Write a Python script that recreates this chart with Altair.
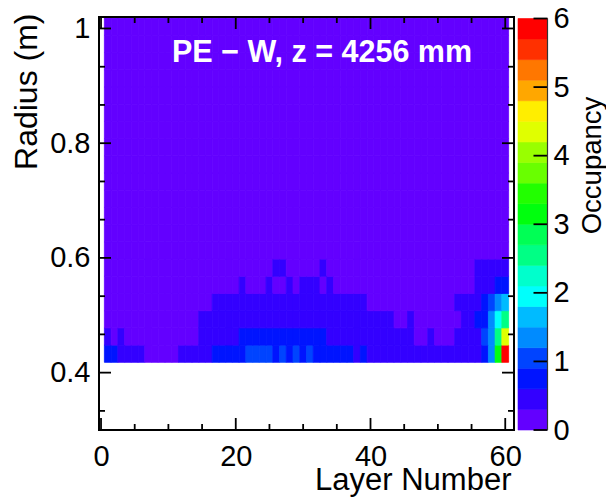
import altair as alt
import pandas as pd

# ------------------------------------------------------------------
# Data
# ------------------------------------------------------------------
LAYERS = list(range(1, 61))          # layer numbers (bin centres)
RADIUS_START = 0.418                 # lower edge of first radius bin (m)
RADIUS_BIN = 0.03                    # radius bin height (m)

# Occupancy per radius bin (bottom bin first), layers 1..60
OCC_ROW_0 = [0.75, 0.75, 0.45, 0.45, 0.45, 0.45, 0.15, 0.15, 0.15, 0.15,
             0.15, 0.45, 0.45, 0.45, 0.45, 0.45, 0.75, 0.75, 0.75, 0.75,
             0.75, 1.05, 1.05, 1.05, 1.05, 0.75, 1.05, 0.75, 1.05, 0.75,
             1.05, 0.75, 0.75, 0.75, 0.75, 0.75, 0.75, 0.45, 0.75, 0.45,
             0.45, 0.45, 0.45, 0.45, 0.45, 0.45, 0.45, 0.45, 0.45, 0.45,
             0.45, 0.45, 0.45, 0.45, 0.45, 0.45, 0.75, 1.35, 3.15, 5.85]
OCC_ROW_1 = [0.45, 0.15, 0.45, 0.15, 0.15, 0.15, 0.15, 0.15, 0.15, 0.15,
             0.15, 0.15, 0.15, 0.15, 0.45, 0.45, 0.45, 0.45, 0.45, 0.45,
             0.75, 0.75, 0.75, 0.75, 0.75, 0.75, 0.75, 0.75, 0.75, 0.75,
             0.75, 0.75, 0.75, 0.45, 0.45, 0.45, 0.45, 0.45, 0.45, 0.45,
             0.45, 0.45, 0.45, 0.45, 0.45, 0.45, 0.15, 0.15, 0.45, 0.15,
             0.15, 0.15, 0.45, 0.45, 0.45, 0.45, 1.05, 1.35, 2.55, 4.35]
OCC_ROW_2 = [0.15, 0.15, 0.15, 0.15, 0.15, 0.15, 0.15, 0.15, 0.15, 0.15,
             0.15, 0.15, 0.15, 0.15, 0.45, 0.45, 0.45, 0.45, 0.45, 0.45,
             0.45, 0.45, 0.45, 0.45, 0.45, 0.45, 0.45, 0.45, 0.45, 0.45,
             0.45, 0.45, 0.45, 0.45, 0.45, 0.45, 0.45, 0.45, 0.45, 0.45,
             0.45, 0.45, 0.45, 0.15, 0.15, 0.45, 0.15, 0.15, 0.15, 0.15,
             0.15, 0.15, 0.15, 0.45, 0.45, 0.75, 0.75, 1.35, 1.95, 2.55]
OCC_ROW_3 = [0.15, 0.15, 0.15, 0.15, 0.15, 0.15, 0.15, 0.15, 0.15, 0.15,
             0.15, 0.15, 0.15, 0.15, 0.15, 0.15, 0.45, 0.45, 0.45, 0.45,
             0.45, 0.45, 0.45, 0.45, 0.45, 0.45, 0.45, 0.45, 0.45, 0.45,
             0.45, 0.45, 0.45, 0.45, 0.45, 0.45, 0.45, 0.45, 0.45, 0.15,
             0.15, 0.15, 0.15, 0.15, 0.15, 0.15, 0.15, 0.15, 0.15, 0.15,
             0.15, 0.15, 0.45, 0.45, 0.45, 0.45, 0.75, 1.05, 1.35, 1.65]
OCC_ROW_4 = [0.15, 0.15, 0.15, 0.15, 0.15, 0.15, 0.15, 0.15, 0.15, 0.15,
             0.15, 0.15, 0.15, 0.15, 0.15, 0.15, 0.15, 0.15, 0.15, 0.15,
             0.45, 0.15, 0.15, 0.15, 0.45, 0.15, 0.15, 0.45, 0.15, 0.45,
             0.45, 0.45, 0.15, 0.45, 0.15, 0.15, 0.15, 0.15, 0.15, 0.15,
             0.15, 0.15, 0.15, 0.15, 0.15, 0.15, 0.15, 0.15, 0.15, 0.15,
             0.15, 0.15, 0.15, 0.15, 0.15, 0.45, 0.45, 0.45, 0.75, 0.75]
OCC_ROW_5 = [0.15, 0.15, 0.15, 0.15, 0.15, 0.15, 0.15, 0.15, 0.15, 0.15,
             0.15, 0.15, 0.15, 0.15, 0.15, 0.15, 0.15, 0.15, 0.15, 0.15,
             0.15, 0.15, 0.15, 0.15, 0.15, 0.45, 0.45, 0.15, 0.15, 0.15,
             0.15, 0.15, 0.45, 0.15, 0.15, 0.15, 0.15, 0.15, 0.15, 0.15,
             0.15, 0.15, 0.15, 0.15, 0.15, 0.15, 0.15, 0.15, 0.15, 0.15,
             0.15, 0.15, 0.15, 0.15, 0.15, 0.45, 0.45, 0.45, 0.45, 0.45]
# every radius bin above the sixth reads uniformly in the lowest band
OCC_UPPER = [0.15, 0.15, 0.15, 0.15, 0.15, 0.15, 0.15, 0.15, 0.15, 0.15,
             0.15, 0.15, 0.15, 0.15, 0.15, 0.15, 0.15, 0.15, 0.15, 0.15,
             0.15, 0.15, 0.15, 0.15, 0.15, 0.15, 0.15, 0.15, 0.15, 0.15,
             0.15, 0.15, 0.15, 0.15, 0.15, 0.15, 0.15, 0.15, 0.15, 0.15,
             0.15, 0.15, 0.15, 0.15, 0.15, 0.15, 0.15, 0.15, 0.15, 0.15,
             0.15, 0.15, 0.15, 0.15, 0.15, 0.15, 0.15, 0.15, 0.15, 0.15]
N_UPPER_ROWS = 15

# colour contours (20 levels of 0.3) and ROOT "pretty" palette colours
LEVELS = [0.0, 0.3, 0.6, 0.9, 1.2, 1.5, 1.8, 2.1, 2.4, 2.7, 3.0,
          3.3, 3.6, 3.9, 4.2, 4.5, 4.8, 5.1, 5.4, 5.7, 6.0]
PALETTE = ["#6300ff", "#3300ff", "#0014ff", "#0044ff", "#008bff",
           "#00bbff", "#00fffc", "#00ffcc", "#00ff85", "#00ff55",
           "#00ff0e", "#22ff00", "#69ff00", "#99ff00", "#e0ff00",
           "#ffee00", "#ffa700", "#ff7700", "#ff3000", "#ff0000"]

X_MAJOR = [0, 20, 40, 60]
X_MINOR = [5, 10, 15, 25, 30, 35, 45, 50, 55]
Y_MAJOR = [0.4, 0.6, 0.8, 1.0]
Y_MINOR = [0.3333, 0.4667, 0.5333, 0.6667, 0.7333, 0.8667, 0.9333]
Z_TICKS = [0, 1, 2, 3, 4, 5, 6]

TITLE = "PE \u2212 W, z = 4256 mm"
X_TITLE = "Layer Number"
Y_TITLE = "Radius (m)"
Z_TITLE = "Occupancy"

# ------------------------------------------------------------------
# Layout / style
# ------------------------------------------------------------------
W, H = 415, 413
X_DOMAIN = [-0.3, 61.3]
Y_DOMAIN = [0.3, 1.02]
FONT = "Liberation Sans"
LABEL_SIZE = 29
TICK_W = 1.8
MAJOR_LEN, MINOR_LEN = 12, 6
CB_X0, CB_X1 = 419, 448.5
CB_RANGE = [413, 1.5]

rows = [OCC_ROW_0, OCC_ROW_1, OCC_ROW_2, OCC_ROW_3, OCC_ROW_4, OCC_ROW_5] + \
       [OCC_UPPER] * N_UPPER_ROWS
recs = []
for r, row in enumerate(rows):
    y0 = RADIUS_START + r * RADIUS_BIN
    for layer, occ in zip(LAYERS, row):
        recs.append({"x0": layer - 0.5, "x1": layer + 0.5,
                     "y0": y0, "y1": y0 + RADIUS_BIN, "occ": occ})
heat_df = pd.DataFrame(recs)

band_df = pd.DataFrame({"lo": LEVELS[:-1], "hi": LEVELS[1:],
                        "occ": [(a + b) / 2 for a, b in zip(LEVELS[:-1], LEVELS[1:])]})

xscale = alt.Scale(domain=X_DOMAIN, nice=False, zero=False)
yscale = alt.Scale(domain=Y_DOMAIN, nice=False, zero=False)
zscale = alt.Scale(domain=[0, 6], range=CB_RANGE, nice=False, zero=False)
cscale = alt.Scale(type="threshold", domain=LEVELS[1:-1], range=PALETTE)

common_axis = dict(labelFont=FONT, labelFontSize=LABEL_SIZE, labelColor="black",
                   ticks=False, tickSize=0, domain=False, grid=False,
                   labelFlush=False, labelOverlap=False,
                   titleFont=FONT, titleFontWeight="normal",
                   titleColor="black", titleBaseline="alphabetic")

heat = alt.Chart(heat_df).mark_rect(clip=True, strokeWidth=0.8).encode(
    x=alt.X("x0:Q", scale=xscale,
            axis=alt.Axis(values=X_MAJOR, format="d", orient="bottom", labelPadding=12,
                          title=X_TITLE, titleFontSize=31, titleAlign="right",
                          titleX=412, titleY=59, **common_axis)),
    x2="x1:Q",
    y=alt.Y("y0:Q", scale=yscale,
            axis=alt.Axis(values=Y_MAJOR, format="~g", orient="left", labelPadding=9,
                          title=Y_TITLE, titleFontSize=32, titleAngle=270,
                          titleAlign="right", titleX=-63, titleY=-4, **common_axis)),
    y2="y1:Q",
    color=alt.Color("occ:Q", scale=cscale, legend=None),
    stroke=alt.Stroke("occ:Q", scale=cscale, legend=None),
)

colorbar = alt.Chart(band_df).mark_rect(strokeWidth=0.6).encode(
    x=alt.value(CB_X0), x2=alt.value(CB_X1),
    y=alt.Y("lo:Q", scale=zscale,
            axis=alt.Axis(values=Z_TICKS, format="d", orient="right", labelPadding=39,
                          labelAlign="left", labelBaseline="middle",
                          title=Z_TITLE, titleFontSize=27.5, titleAngle=270,
                          titleAlign="center", titleX=86, titleY=148, **common_axis)),
    y2="hi:Q",
    color=alt.Color("occ:Q", scale=cscale, legend=None),
    stroke=alt.Stroke("occ:Q", scale=cscale, legend=None),
)


def vticks(vals, y_from, y_to):
    return alt.Chart(pd.DataFrame({"v": vals})).mark_rule(
        color="black", strokeWidth=TICK_W).encode(
        x=alt.X("v:Q", scale=xscale, axis=None),
        y=alt.value(y_from), y2=alt.value(y_to))


def hticks(vals, scale, x_from, x_to):
    return alt.Chart(pd.DataFrame({"v": vals})).mark_rule(
        color="black", strokeWidth=TICK_W).encode(
        y=alt.Y("v:Q", scale=scale, axis=None),
        x=alt.value(x_from), x2=alt.value(x_to))


tick_layers = [
    vticks(X_MAJOR, H, H - MAJOR_LEN), vticks(X_MINOR, H, H - MINOR_LEN),
    vticks(X_MAJOR, 0, MAJOR_LEN), vticks(X_MINOR, 0, MINOR_LEN),
    hticks(Y_MAJOR, yscale, 0, MAJOR_LEN), hticks(Y_MINOR, yscale, 0, MINOR_LEN),
    hticks(Y_MAJOR, yscale, W, W - MAJOR_LEN), hticks(Y_MINOR, yscale, W, W - MINOR_LEN),
    hticks(Z_TICKS, zscale, CB_X1, CB_X1 - 14),
]

one = pd.DataFrame({"k": [0]})
frame = alt.Chart(one).mark_rect(filled=False, stroke="black", strokeWidth=2).encode(
    x=alt.value(0), x2=alt.value(W), y=alt.value(0), y2=alt.value(H))
cb_edge = alt.Chart(one).mark_rule(color="#333333", strokeWidth=1.2).encode(
    x=alt.value(CB_X1), y=alt.value(CB_RANGE[1]), y2=alt.value(CB_RANGE[0]))

title = alt.Chart(pd.DataFrame({"t": [TITLE]})).mark_text(
    align="left", baseline="alphabetic", font=FONT, fontSize=30.5,
    fontWeight="bold", color="white").encode(
    text="t:N", x=alt.value(73), y=alt.value(45))

chart = alt.layer(heat, colorbar, *tick_layers, frame, cb_edge, title).resolve_scale(
    y="independent"
).resolve_axis(
    x="independent", y="independent"
).properties(
    width=W, height=H,
    autosize=alt.AutoSizeParams(type="none"),
    padding={"left": 99, "top": 17, "right": 92, "bottom": 69},
    background="white",
).configure_view(stroke=None)

chart.save("out.html", embed_options={"renderer": "svg", "actions": False})
